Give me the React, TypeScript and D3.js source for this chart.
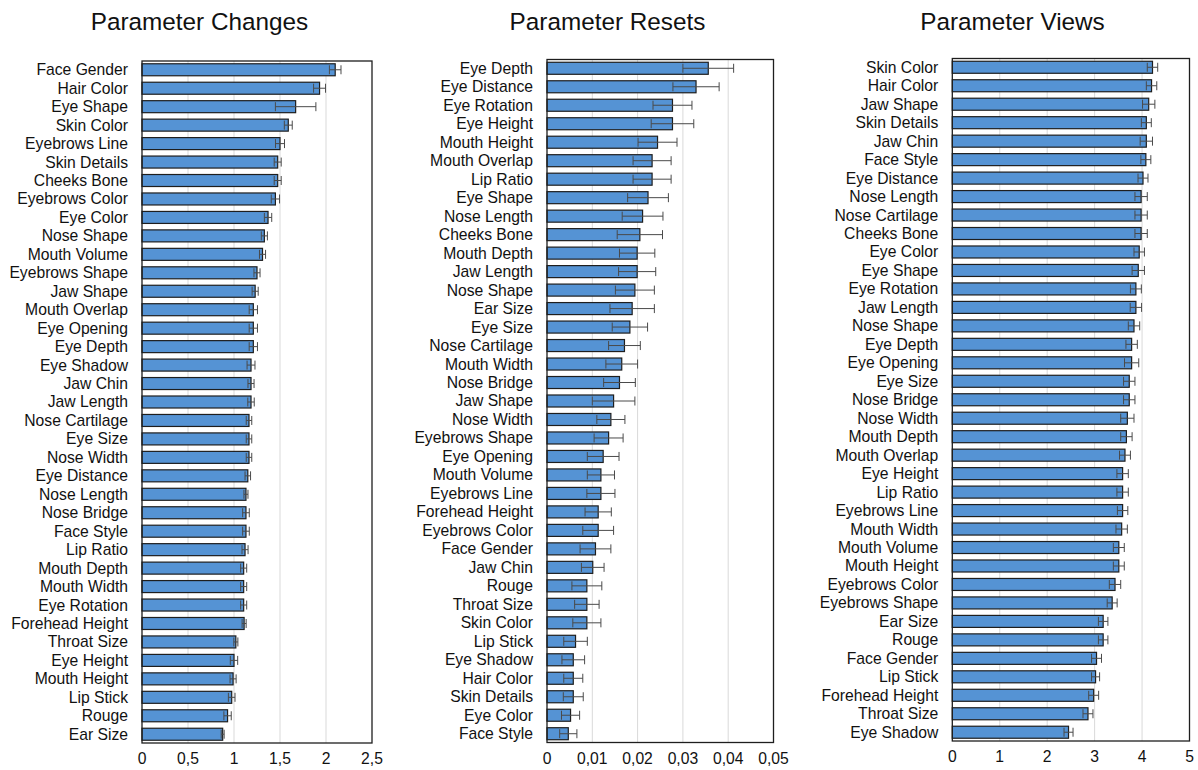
import * as d3 from 'd3';

// Parameter Changes
const changesCategories = [
  'Face Gender', 'Hair Color', 'Eye Shape', 'Skin Color', 'Eyebrows Line', 'Skin Details',
  'Cheeks Bone', 'Eyebrows Color', 'Eye Color', 'Nose Shape', 'Mouth Volume', 'Eyebrows Shape',
  'Jaw Shape', 'Mouth Overlap', 'Eye Opening', 'Eye Depth', 'Eye Shadow', 'Jaw Chin',
  'Jaw Length', 'Nose Cartilage', 'Eye Size', 'Nose Width', 'Eye Distance', 'Nose Length',
  'Nose Bridge', 'Face Style', 'Lip Ratio', 'Mouth Depth', 'Mouth Width', 'Eye Rotation',
  'Forehead Height', 'Throat Size', 'Eye Height', 'Mouth Height', 'Lip Stick', 'Rouge', 'Ear Size',
];
const changesValues = [
  2.1, 1.93, 1.67, 1.59, 1.5, 1.475, 1.475, 1.45, 1.37, 1.33, 1.31, 1.25,
  1.23, 1.21, 1.21, 1.21, 1.185, 1.185, 1.185, 1.163, 1.163, 1.163, 1.15, 1.13,
  1.13, 1.13, 1.12, 1.105, 1.105, 1.105, 1.11, 1.02, 1.0, 0.99, 0.975, 0.93, 0.877,
];
const changesErrors = [
  0.063, 0.065, 0.22, 0.043, 0.049, 0.038, 0.038, 0.045, 0.04, 0.033, 0.033, 0.033,
  0.033, 0.045, 0.045, 0.045, 0.043, 0.033, 0.035, 0.03, 0.03, 0.03, 0.03, 0.022,
  0.036, 0.036, 0.033, 0.033, 0.033, 0.033, 0.022, 0.022, 0.04, 0.033, 0.036, 0.04, 0.016,
];

// Parameter Resets
const resetsCategories = [
  'Eye Depth', 'Eye Distance', 'Eye Rotation', 'Eye Height', 'Mouth Height', 'Mouth Overlap',
  'Lip Ratio', 'Eye Shape', 'Nose Length', 'Cheeks Bone', 'Mouth Depth', 'Jaw Length',
  'Nose Shape', 'Ear Size', 'Eye Size', 'Nose Cartilage', 'Mouth Width', 'Nose Bridge',
  'Jaw Shape', 'Nose Width', 'Eyebrows Shape', 'Eye Opening', 'Mouth Volume', 'Eyebrows Line',
  'Forehead Height', 'Eyebrows Color', 'Face Gender', 'Jaw Chin', 'Rouge', 'Throat Size',
  'Skin Color', 'Lip Stick', 'Eye Shadow', 'Hair Color', 'Skin Details', 'Eye Color', 'Face Style',
];
const resetsValues = [
  0.0356, 0.0329, 0.0277, 0.0277, 0.0244, 0.0232, 0.0232, 0.0223, 0.0211, 0.0205, 0.0199, 0.0199,
  0.0194, 0.0188, 0.0183, 0.0171, 0.0165, 0.016, 0.0147, 0.0141, 0.0136, 0.0124, 0.0119, 0.0119,
  0.0113, 0.0113, 0.0107, 0.0101, 0.0088, 0.0088, 0.0088, 0.0063, 0.0058, 0.0058, 0.0058, 0.0052, 0.0047,
];
const resetsErrors = [
  0.0056, 0.0051, 0.0043, 0.0047, 0.0043, 0.0042, 0.0042, 0.0045, 0.0045, 0.005, 0.0039, 0.0041,
  0.0043, 0.0049, 0.0039, 0.0035, 0.0035, 0.0035, 0.0047, 0.0031, 0.0032, 0.0035, 0.003, 0.0031,
  0.0029, 0.0034, 0.0034, 0.0025, 0.0033, 0.0027, 0.0031, 0.0026, 0.0025, 0.0021, 0.0022, 0.002, 0.0019,
];

// Parameter Views
const viewsCategories = [
  'Skin Color', 'Hair Color', 'Jaw Shape', 'Skin Details', 'Jaw Chin', 'Face Style',
  'Eye Distance', 'Nose Length', 'Nose Cartilage', 'Cheeks Bone', 'Eye Color', 'Eye Shape',
  'Eye Rotation', 'Jaw Length', 'Nose Shape', 'Eye Depth', 'Eye Opening', 'Eye Size',
  'Nose Bridge', 'Nose Width', 'Mouth Depth', 'Mouth Overlap', 'Eye Height', 'Lip Ratio',
  'Eyebrows Line', 'Mouth Width', 'Mouth Volume', 'Mouth Height', 'Eyebrows Color',
  'Eyebrows Shape', 'Ear Size', 'Rouge', 'Face Gender', 'Lip Stick', 'Forehead Height',
  'Throat Size', 'Eye Shadow',
];
const viewsValues = [
  4.22, 4.2, 4.14, 4.09, 4.09, 4.08, 4.02, 3.98, 3.98, 3.98, 3.94, 3.92,
  3.87, 3.87, 3.83, 3.78, 3.78, 3.73, 3.73, 3.69, 3.67, 3.64, 3.59, 3.59,
  3.59, 3.57, 3.51, 3.51, 3.43, 3.37, 3.18, 3.18, 3.04, 3.02, 2.98, 2.86, 2.45,
];
const viewsErrors = [
  0.11, 0.11, 0.13, 0.105, 0.13, 0.105, 0.105, 0.13, 0.13, 0.13, 0.11, 0.13,
  0.115, 0.12, 0.12, 0.12, 0.15, 0.12, 0.12, 0.14, 0.12, 0.115, 0.12, 0.12,
  0.11, 0.12, 0.115, 0.115, 0.12, 0.105, 0.1, 0.1, 0.105, 0.085, 0.105, 0.105, 0.095,
];

const changesTicks = [0, 0.5, 1, 1.5, 2, 2.5];
const resetsTicks = [0, 0.01, 0.02, 0.03, 0.04, 0.05];
const viewsTicks = [0, 1, 2, 3, 4, 5];

const FONT = 'Liberation Sans, Arial, sans-serif';
const BAR_FILL = '#5593d4';

interface PanelProps {
  title: string;
  titleX: number;
  categories: string[];
  values: number[];
  errors: number[];
  ticks: number[];
  left: number;
  right: number;
  top: number;
  bottom: number;
}

// decimal comma, as in the original
const fmt = (v: number) => String(+v.toFixed(3)).replace('.', ',');

const Panel = ({ title, titleX, categories, values, errors, ticks, left, right, top, bottom }: PanelProps) => {
  const x = d3.scaleLinear().domain([0, ticks[ticks.length - 1]]).range([left, right]);
  const y = d3.scaleBand<string>().domain(categories).range([top, bottom]).paddingInner(0.35).paddingOuter(0.15);
  const bw = y.bandwidth();
  const cap = bw * 0.75;

  return (
    <g>
      <text x={titleX} y={30} textAnchor="middle" fontFamily={FONT} fontSize={24.3} fill="#111">
        {title}
      </text>
      {/* grid */}
      {ticks.slice(1, -1).map((t) => (
        <line key={t} x1={x(t)} x2={x(t)} y1={top} y2={bottom} stroke="#d9d9d9" strokeWidth={1} />
      ))}
      {/* bars */}
      {categories.map((c, i) => (
        <rect
          key={c}
          x={x(0)}
          y={y(c)!}
          width={x(values[i]) - x(0)}
          height={bw}
          fill={BAR_FILL}
          stroke="#1e1e1e"
          strokeWidth={1.2}
        />
      ))}
      {/* error bars */}
      {categories.map((c, i) => {
        const cy = y(c)! + bw / 2;
        const x0 = x(values[i] - errors[i]);
        const x1 = x(values[i] + errors[i]);
        return (
          <g key={c} stroke="#4a4a4a" strokeWidth={1}>
            <line x1={x0} x2={x1} y1={cy} y2={cy} />
            <line x1={x0} x2={x0} y1={cy - cap / 2} y2={cy + cap / 2} />
            <line x1={x1} x2={x1} y1={cy - cap / 2} y2={cy + cap / 2} />
          </g>
        );
      })}
      {/* frame */}
      <rect x={left} y={top} width={right - left} height={bottom - top} fill="none" stroke="#1e1e1e" strokeWidth={1.3} />
      {/* category labels */}
      {categories.map((c) => (
        <text
          key={c}
          x={left - 14}
          y={y(c)! + bw / 2}
          dy="0.35em"
          textAnchor="end"
          fontFamily={FONT}
          fontSize={15.7}
          fill="#111"
        >
          {c}
        </text>
      ))}
      {/* tick labels */}
      {ticks.map((t) => (
        <text key={t} x={x(t)} y={bottom + 21} textAnchor="middle" fontFamily={FONT} fontSize={15.7} fill="#111">
          {fmt(t)}
        </text>
      ))}
    </g>
  );
};

export default function App() {
  return (
    <svg
      width={1198}
      height={770}
      style={{ position: 'absolute', left: 0, top: 0, background: '#fff' }}
    >
      <rect width={1198} height={770} fill="#fff" />
      <Panel
        title="Parameter Changes"
        titleX={199.5}
        categories={changesCategories}
        values={changesValues}
        errors={changesErrors}
        ticks={changesTicks}
        left={142}
        right={372}
        top={61}
        bottom={743}
      />
      <Panel
        title="Parameter Resets"
        titleX={607.5}
        categories={resetsCategories}
        values={resetsValues}
        errors={resetsErrors}
        ticks={resetsTicks}
        left={547}
        right={773.5}
        top={59.5}
        bottom={742.5}
      />
      <Panel
        title="Parameter Views"
        titleX={1012.5}
        categories={viewsCategories}
        values={viewsValues}
        errors={viewsErrors}
        ticks={viewsTicks}
        left={952.3}
        right={1189.5}
        top={58.5}
        bottom={741}
      />
    </svg>
  );
}
